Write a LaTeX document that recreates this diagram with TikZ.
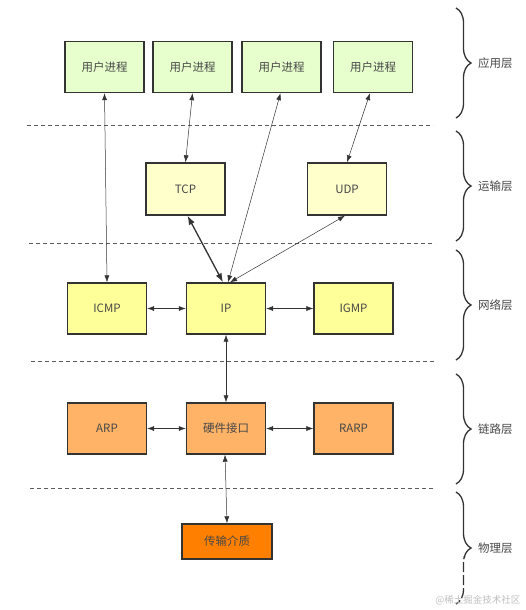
\documentclass[tikz,border=0pt]{standalone}
\usepackage{fontspec}
\setmainfont{Noto Sans CJK SC}
\usetikzlibrary{positioning,arrows.meta,decorations.pathreplacing}

\definecolor{appgreen}{HTML}{E6FFCC}
\definecolor{tpyellow}{HTML}{FFFFCC}
\definecolor{netyellow}{HTML}{FFFF99}
\definecolor{linkorange}{HTML}{FFB366}
\definecolor{phyorange}{HTML}{FF8000}
\definecolor{edge}{HTML}{333333}

\begin{document}
\begin{tikzpicture}[x=1pt,y=-1pt]
            \tikzset{
                every node/.style={font=\fontsize{11.5}{13}\selectfont, text=edge!90},
                box/.style={draw=edge, line width=1.4pt, minimum width=79pt, minimum height=51pt, inner sep=0pt},
                link/.style={draw=edge, line width=0.5pt, {Latex[length=7pt,width=5pt]}-{Latex[length=7pt,width=5pt]}},
                boldlink/.style={draw=edge, line width=1.3pt, {Latex[length=9pt,width=6.5pt]}-{Latex[length=9pt,width=6.5pt]}},
                sep/.style={draw=edge!80, line width=0.6pt, dash pattern=on 4pt off 3pt},
                layerbrace/.style={draw=edge, line width=1.3pt, decorate, decoration={brace, amplitude=15pt}},
                layer/.style={anchor=west, inner sep=0pt}
            }
            \useasboundingbox (0,0) rectangle (526,610);

            % application layer
            \node[box, fill=appgreen] (user1) at (104.5,67) {用户进程};
            \node[box, fill=appgreen] (user2) at (192.5,67) {用户进程};
            \node[box, fill=appgreen] (user3) at (281.5,67) {用户进程};
            \node[box, fill=appgreen] (user4) at (373,67) {用户进程};

            % transport layer
            \node[box, fill=tpyellow, minimum height=52pt] (tcp) at (185.5,189) {TCP};
            \node[box, fill=tpyellow, minimum height=52pt] (udp) at (347,189) {UDP};

            % network layer
            \node[box, fill=netyellow] (icmp) at (107,308.5) {ICMP};
            \node[box, fill=netyellow] (ip) at (226,308.5) {IP};
            \node[box, fill=netyellow] (igmp) at (353.5,308.5) {IGMP};

            % link layer
            \node[box, fill=linkorange] (arp) at (107,428.5) {ARP};
            \node[box, fill=linkorange] (hw) at (226,428.5) {硬件接口};
            \node[box, fill=linkorange] (rarp) at (353.5,428.5) {RARP};

            % physical layer
            \node[box, fill=phyorange, minimum width=90pt, minimum height=35pt] (medium) at (227,541.5) {传输介质};

            % separators
            \draw[sep] (27,125) -- (433,125);
            \draw[sep] (29,243) -- (435,243);
            \draw[sep] (31,361) -- (435,361);
            \draw[sep] (30,488) -- (435,488);

            % connectors
            \draw[link] (user1.south) -- (icmp.north);
            \draw[link] (user2.south) -- (tcp.north);
            \draw[link] ([xshift=-1pt]user3.south) -- ([xshift=2pt]ip.north);
            \draw[link] ([xshift=-3pt]user4.south) -- (udp.north);
            \draw[boldlink] ([xshift=2pt]tcp.south) -- ([xshift=-3pt]ip.north);
            \draw[link] ([xshift=-2pt]udp.south) -- ([xshift=4pt]ip.north);
            \draw[link] (icmp.east) -- (ip.west);
            \draw[link] (ip.east) -- (igmp.west);
            \draw[link] (ip.south) -- (hw.north);
            \draw[link] (arp.east) -- (hw.west);
            \draw[link] (hw.east) -- (rarp.west);
            \draw[link] ([xshift=-1pt]hw.south) -- (medium.north);

            % layer braces
            \draw[layerbrace] (456,8) -- (456,118);
            \draw[layerbrace] (456,131) -- (456,241);
            \draw[layerbrace] (456,250) -- (456,360);
            \draw[layerbrace] (456,374) -- (456,484);
            \begin{scope}
                \clip (440,480) rectangle (490,556);
                \draw[layerbrace] (456,492) -- (456,604);
            \end{scope}
            \begin{scope}
                \clip (440,556) rectangle (490,610);
                \draw[layerbrace, dash pattern=on 10pt off 3pt] (456,492) -- (456,604);
            \end{scope}
            \node[layer] (lapp) at (478,63) {应用层};
            \node[layer] (ltp) at (478,186) {运输层};
            \node[layer] (lnet) at (478,305) {网络层};
            \node[layer] (llink) at (478,429) {链路层};
            \node[layer] (lphy) at (478,548) {物理层};

            % watermark
            \node[font=\fontsize{9.5}{11}\selectfont, text=black!25, anchor=east] (mark) at (524,600) {@稀土掘金技术社区};
        \end{tikzpicture}
\end{document}
